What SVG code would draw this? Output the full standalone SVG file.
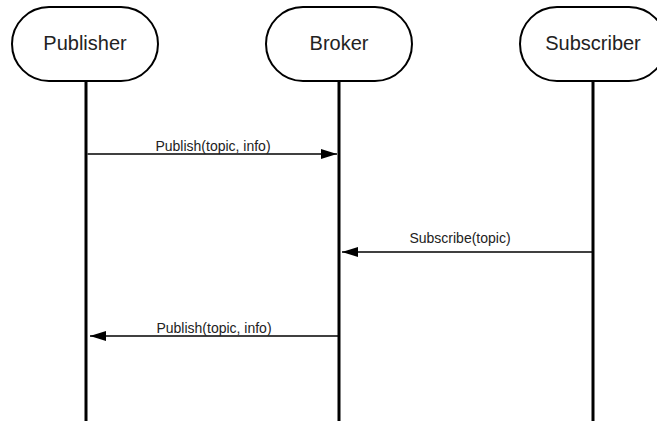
<svg xmlns="http://www.w3.org/2000/svg" width="657" height="421" viewBox="0 0 657 421">
  <defs>
    <marker id="arrow" viewBox="0 0 16 10" refX="16" refY="5" markerWidth="16" markerHeight="10" markerUnits="userSpaceOnUse" orient="auto">
      <path d="M0,0 L16,5 L0,10 Z" fill="#000"/>
    </marker>
  </defs>
  <style>
    .actor { fill: #fff; stroke: #000; stroke-width: 2; }
    .actor-label { font-family: "Liberation Sans", Arial, sans-serif; font-size: 20px; fill: #222; text-anchor: middle; }
    .lifeline { stroke: #000; stroke-width: 3; }
    .msg { stroke: #000; stroke-width: 1.6; fill: none; marker-end: url(#arrow); }
    .msg-label { font-family: "Liberation Sans", Arial, sans-serif; font-size: 14px; fill: #222; text-anchor: middle; }
  </style>
  <rect width="657" height="421" fill="#fff"/>

  <g id="connectors">
    <line class="lifeline" x1="86" y1="81" x2="86" y2="421"/>
    <line class="lifeline" x1="339" y1="81" x2="339" y2="421"/>
    <line class="lifeline" x1="593" y1="81" x2="593" y2="421"/>

    <g id="msg-publish-1">
      <line class="msg" x1="87.5" y1="154" x2="337" y2="154"/>
      <text class="msg-label" x="213" y="151">Publish(topic, info)</text>
    </g>
    <g id="msg-subscribe">
      <line class="msg" x1="592" y1="252" x2="342" y2="252"/>
      <text class="msg-label" x="460" y="243">Subscribe(topic)</text>
    </g>
    <g id="msg-publish-2">
      <line class="msg" x1="338" y1="336" x2="90" y2="336"/>
      <text class="msg-label" x="214" y="333">Publish(topic, info)</text>
    </g>
  </g>

  <g id="publisher">
    <rect class="actor" x="12" y="7" width="146" height="74" rx="37" ry="37"/>
    <text class="actor-label" x="85" y="50">Publisher</text>
  </g>
  <g id="broker">
    <rect class="actor" x="266" y="7" width="146" height="74" rx="37" ry="37"/>
    <text class="actor-label" x="339" y="50">Broker</text>
  </g>
  <g id="subscriber">
    <rect class="actor" x="520" y="7" width="146" height="74" rx="37" ry="37"/>
    <text class="actor-label" x="593" y="50">Subscriber</text>
  </g>
</svg>
